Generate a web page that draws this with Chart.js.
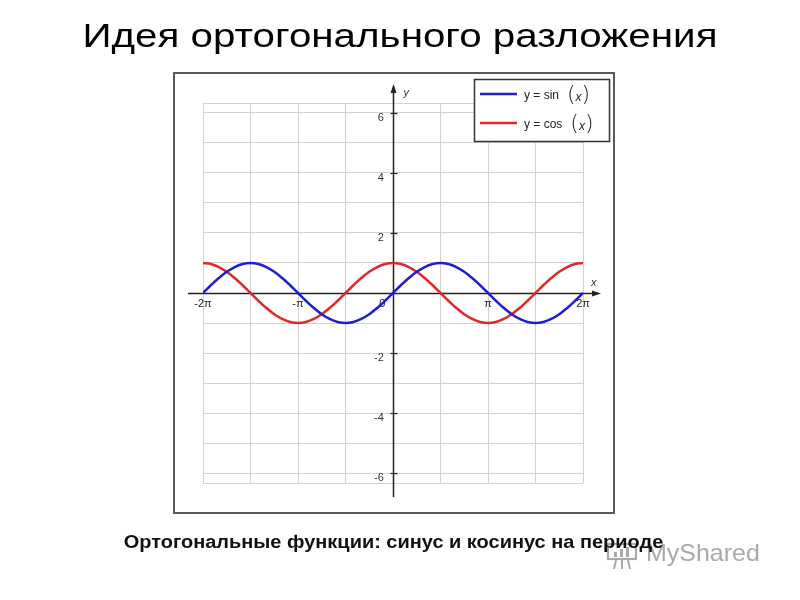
<!DOCTYPE html>
<html><head><meta charset="utf-8">
<script src="https://cdn.jsdelivr.net/npm/chart.js@4.4.1/dist/chart.umd.min.js"></script>
<style>
html,body{margin:0;padding:0;background:#fff;}
#wrap{position:relative;width:800px;height:600px;overflow:hidden;background:#fff;}
#c{position:absolute;left:0;top:0;}
#title{position:absolute;left:0;top:17px;width:800px;text-align:center;font-family:"Liberation Sans",Arial,sans-serif;font-size:33px;line-height:38px;color:#000;white-space:nowrap;transform:scaleX(1.223);transform-origin:400px 0;}
#frame{position:absolute;left:173px;top:72px;width:438px;height:438px;border:2px solid #5a5a5a;}
#caption{position:absolute;left:0;top:532px;width:787px;text-align:center;font-family:"Liberation Sans",Arial,sans-serif;font-weight:bold;font-size:18px;line-height:21px;color:#111;white-space:nowrap;transform:scaleX(1.109);transform-origin:393.5px 0;}
#wm{position:absolute;left:646px;top:539px;font-family:"Liberation Sans",Arial,sans-serif;font-size:24px;line-height:28px;color:#a9a9a9;white-space:nowrap;transform:scaleX(1.04);transform-origin:0 0;}
#wmicon{position:absolute;left:606px;top:542px;}
</style>
</head>
<body>
<div id="wrap">
  <div id="frame"></div>
  <canvas id="c" width="800" height="600"></canvas>
  <div id="title">Идея ортогонального разложения</div>
  <svg id="wmicon" width="32" height="28" viewBox="0 0 32 28">
    <rect x="2" y="2" width="28" height="15" fill="none" stroke="#a9a9a9" stroke-width="2.2"/>
    <rect x="8" y="10" width="3" height="5" fill="#a9a9a9"/>
    <rect x="14" y="7" width="3" height="8" fill="#a9a9a9"/>
    <rect x="20" y="5" width="3" height="10" fill="#a9a9a9"/>
    <line x1="10" y1="18" x2="8" y2="27" stroke="#a9a9a9" stroke-width="2"/>
    <line x1="16" y1="18" x2="16" y2="27" stroke="#a9a9a9" stroke-width="2"/>
    <line x1="22" y1="18" x2="24" y2="27" stroke="#a9a9a9" stroke-width="2"/>
  </svg>
  <div id="wm">MyShared</div>
  <div id="caption">Ортогональные функции: синус и косинус на периоде</div>
</div>
<script>
// x positions in twelfths of pi (x = k * pi / 12)
const xTwelfthsOfPi = [-24,-23,-22,-21,-20,-19,-18,-17,-16,-15,-14,-13,-12,-11,-10,-9,-8,-7,-6,-5,-4,-3,-2,-1,0,1,2,3,4,5,6,7,8,9,10,11,12,13,14,15,16,17,18,19,20,21,22,23,24];
const sinValues = [0,0.259,0.5,0.707,0.866,0.966,1,0.966,0.866,0.707,0.5,0.259,0,-0.259,-0.5,-0.707,-0.866,-0.966,-1,-0.966,-0.866,-0.707,-0.5,-0.259,0,0.259,0.5,0.707,0.866,0.966,1,0.966,0.866,0.707,0.5,0.259,0,-0.259,-0.5,-0.707,-0.866,-0.966,-1,-0.966,-0.866,-0.707,-0.5,-0.259,0];
const cosValues = [1,0.966,0.866,0.707,0.5,0.259,0,-0.259,-0.5,-0.707,-0.866,-0.966,-1,-0.966,-0.866,-0.707,-0.5,-0.259,0,0.259,0.5,0.707,0.866,0.966,1,0.966,0.866,0.707,0.5,0.259,0,-0.259,-0.5,-0.707,-0.866,-0.966,-1,-0.966,-0.866,-0.707,-0.5,-0.259,0,0.259,0.5,0.707,0.866,0.966,1];
const seriesFuncs = ['sin', 'cos'];
const seriesColors = ['#1f1fd0', '#e02828'];
const xGridValues = [-24, -18, -12, -6, 0, 6, 12, 18, 24];
const xTickValues = [-24, -12, 0, 12, 24];
const xTickLabels = ['-2π', '-π', '0       ', 'π', '2π'];
const yMin = -6.33, yMax = 6.33;
const yGridValues = [-6.33, -6, -5, -4, -3, -2, -1, 0, 1, 2, 3, 4, 5, 6, 6.33];
const yTickLabels = [-6, -4, -2, 2, 4, 6];
const xAxisName = 'x';
const yAxisName = 'y';

function pts(vals) { return xTwelfthsOfPi.map((x, i) => ({x: x, y: vals[i]})); }

const decor = {
  id: 'decor',
  beforeDatasetsDraw(chart) {
    const ctx = chart.ctx;
    const xs = chart.scales.x, ys = chart.scales.y;
    const ox = Math.round(xs.getPixelForValue(0)) + 0.5;
    const oy = Math.round(ys.getPixelForValue(0)) + 0.5;
    const a = chart.chartArea;
    ctx.save();
    ctx.strokeStyle = '#222';
    ctx.fillStyle = '#222';
    ctx.lineWidth = 1.5;
    // y axis
    ctx.beginPath(); ctx.moveTo(ox, a.bottom + 14); ctx.lineTo(ox, a.top - 14); ctx.stroke();
    ctx.beginPath(); ctx.moveTo(ox, a.top - 19); ctx.lineTo(ox - 3, a.top - 10); ctx.lineTo(ox + 3, a.top - 10); ctx.closePath(); ctx.fill();
    // x axis
    ctx.beginPath(); ctx.moveTo(a.left - 15, oy); ctx.lineTo(a.right + 13, oy); ctx.stroke();
    ctx.beginPath(); ctx.moveTo(a.right + 18, oy); ctx.lineTo(a.right + 9, oy - 3); ctx.lineTo(a.right + 9, oy + 3); ctx.closePath(); ctx.fill();
    // tick marks
    ctx.lineWidth = 1.2;
    yTickLabels.forEach(v => {
      const py = Math.round(ys.getPixelForValue(v)) + 0.5;
      ctx.beginPath(); ctx.moveTo(ox - 3, py); ctx.lineTo(ox + 4, py); ctx.stroke();
    });
    // axis names
    ctx.font = 'italic 11px "Liberation Sans", Arial, sans-serif';
    ctx.fillStyle = '#333';
    ctx.textAlign = 'left'; ctx.textBaseline = 'middle';
    ctx.fillText(yAxisName, ox + 10, a.top - 10);
    ctx.fillText(xAxisName, a.right + 8, oy - 11);
    ctx.restore();
  },
  afterDatasetsDraw(chart) {
    const ctx = chart.ctx;
    const bx = 474.5, by = 79.5, bw = 135, bh = 62;
    ctx.save();
    ctx.fillStyle = '#fff';
    ctx.fillRect(bx, by, bw, bh);
    ctx.strokeStyle = '#333';
    ctx.lineWidth = 1.5;
    ctx.strokeRect(bx, by, bw, bh);
    chart.data.datasets.forEach((ds, i) => {
      const ly = 94 + i * 29;
      ctx.strokeStyle = ds.borderColor;
      ctx.lineWidth = 2.5;
      ctx.beginPath(); ctx.moveTo(480, ly); ctx.lineTo(517, ly); ctx.stroke();
      ctx.fillStyle = '#222';
      ctx.textBaseline = 'middle';
      ctx.textAlign = 'left';
      ctx.font = '12px "Liberation Sans", Arial, sans-serif';
      const main = 'y = ' + seriesFuncs[i];
      ctx.fillText(main, 524, ly + 2);
      const w = ctx.measureText(main).width;
      let px = 524 + w + 8;
      ctx.font = '300 22px "DejaVu Sans", sans-serif';
      ctx.fillText('(', px, ly + 1);
      const pw = ctx.measureText('(').width;
      ctx.font = 'italic 12px "Liberation Sans", Arial, sans-serif';
      ctx.fillText('x', px + pw, ly + 4);
      const xw = ctx.measureText('x').width;
      ctx.font = '300 22px "DejaVu Sans", sans-serif';
      ctx.fillText(')', px + pw + xw, ly + 1);
    });
    ctx.restore();
  }
};

new Chart(document.getElementById('c'), {
  type: 'line',
  data: {
    datasets: [
      {label: 'y = sin (x)', data: pts(sinValues), borderColor: seriesColors[0], borderWidth: 2.5, pointRadius: 0, tension: 0.4, fill: false},
      {label: 'y = cos (x)', data: pts(cosValues), borderColor: seriesColors[1], borderWidth: 2.5, pointRadius: 0, tension: 0.4, fill: false}
    ]
  },
  options: {
    responsive: false,
    animation: false,
    events: [],
    layout: {padding: {left: 203, right: 217, top: 103, bottom: 117}},
    plugins: {legend: {display: false}, tooltip: {enabled: false}, title: {display: false}},
    scales: {
      x: {
        type: 'linear', min: -24, max: 24, position: {y: 0},
        border: {display: false},
        grid: {color: '#d2d2d2', lineWidth: 1, drawTicks: false},
        afterBuildTicks: s => { s.ticks = xGridValues.map(v => ({value: v})); },
        ticks: {
          autoSkip: false, maxRotation: 0, padding: 4,
          font: {size: 11, family: '"Liberation Sans", Arial, sans-serif'}, color: '#222',
          callback: v => { const k = xTickValues.indexOf(v); return k >= 0 ? xTickLabels[k] : ''; }
        }
      },
      y: {
        type: 'linear', min: yMin, max: yMax, position: {x: 0},
        border: {display: false},
        grid: {color: '#d2d2d2', lineWidth: 1, drawTicks: false},
        afterBuildTicks: s => { s.ticks = yGridValues.map(v => ({value: v})); },
        ticks: {
          autoSkip: false, labelOffset: 5,
          font: {size: 11, family: '"Liberation Sans", Arial, sans-serif'}, color: '#333',
          callback: v => yTickLabels.includes(v) ? String(v) + '   ' : ''
        }
      }
    }
  },
  plugins: [decor]
});
</script>
</body></html>
